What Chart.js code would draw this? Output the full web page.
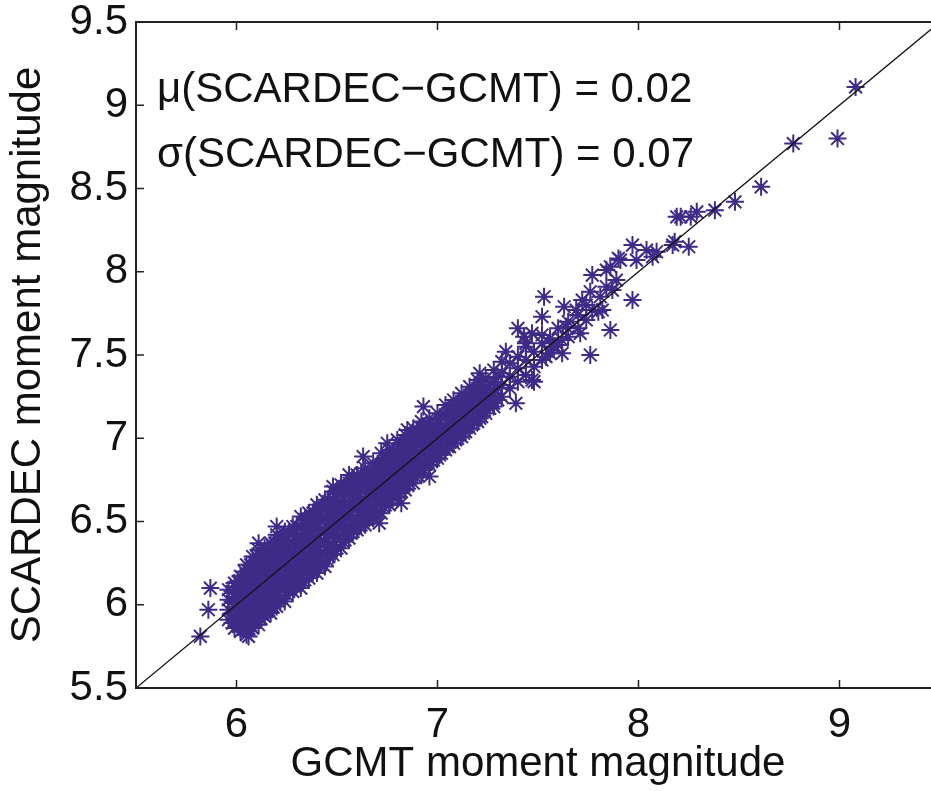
<!DOCTYPE html>
<html>
<head>
<meta charset="utf-8">
<script src="https://cdn.jsdelivr.net/npm/chart.js@4.4.0/dist/chart.umd.min.js"></script>
<style>
html,body{margin:0;padding:0;background:#fff;overflow:hidden;width:931px;height:791px}
canvas{display:block}
</style>
</head>
<body>
<canvas id="c" width="931" height="791"></canvas>
<script>
// ---- data ----
const xTitle = 'GCMT moment magnitude';
const yTitle = 'SCARDEC moment magnitude';
const annotationLines = ['\u03BC(SCARDEC\u2212GCMT) = 0.02', '\u03C3(SCARDEC\u2212GCMT) = 0.07'];
const xTicks = [6, 7, 8, 9];
const yTicks = [5.5, 6, 6.5, 7, 7.5, 8, 8.5, 9, 9.5];
const refLine = [5.5, 9.5];

// dense band: GCMT Mw columns and the SCARDEC Mw values seen in each column
const colX = [5.96, 5.99, 6.02, 6.05, 6.08, 6.11, 6.14, 6.17, 6.20, 6.24,
              6.28, 6.32, 6.36, 6.40, 6.44, 6.48, 6.52, 6.56, 6.60, 6.64,
              6.68, 6.72, 6.76, 6.80, 6.84, 6.88, 6.92, 6.96, 7.00, 7.04,
              7.08, 7.12, 7.16, 7.20, 7.24, 7.28, 7.32, 7.36, 7.40, 7.44,
              7.48, 7.52, 7.56, 7.60, 7.65, 7.70, 7.74, 7.80];
const colY = [
  [5.91, 5.97, 6.03, 6.09],
  [5.86, 5.94, 6.01, 6.07, 6.13],
  [5.84, 5.91, 5.98, 6.04, 6.11, 6.17],
  [5.82, 5.89, 5.96, 6.03, 6.10, 6.18, 6.24],
  [5.86, 5.93, 6.00, 6.07, 6.14, 6.21, 6.29],
  [5.88, 5.96, 6.04, 6.11, 6.18, 6.25, 6.33],
  [5.93, 5.99, 6.06, 6.13, 6.20, 6.27, 6.34],
  [5.95, 6.03, 6.10, 6.17, 6.24, 6.31, 6.37],
  [5.99, 6.06, 6.13, 6.20, 6.27, 6.34, 6.42],
  [6.02, 6.10, 6.17, 6.24, 6.31, 6.38, 6.44],
  [6.08, 6.14, 6.21, 6.28, 6.35, 6.42, 6.47],
  [6.10, 6.18, 6.25, 6.32, 6.39, 6.46, 6.53],
  [6.16, 6.22, 6.29, 6.36, 6.43, 6.50, 6.55],
  [6.19, 6.26, 6.33, 6.40, 6.47, 6.54, 6.60],
  [6.23, 6.31, 6.38, 6.45, 6.52, 6.58, 6.63],
  [6.30, 6.36, 6.43, 6.50, 6.57, 6.63, 6.68],
  [6.34, 6.41, 6.48, 6.55, 6.62, 6.68, 6.72],
  [6.40, 6.46, 6.53, 6.60, 6.67, 6.73, 6.78],
  [6.45, 6.51, 6.58, 6.64, 6.71, 6.78],
  [6.48, 6.55, 6.62, 6.69, 6.75, 6.82],
  [6.52, 6.59, 6.66, 6.73, 6.80, 6.85],
  [6.55, 6.63, 6.70, 6.77, 6.84, 6.91],
  [6.60, 6.67, 6.74, 6.81, 6.88, 6.93],
  [6.65, 6.71, 6.78, 6.85, 6.92, 6.99],
  [6.69, 6.76, 6.83, 6.90, 6.97, 7.02],
  [6.73, 6.81, 6.88, 6.95, 7.01, 7.06],
  [6.79, 6.86, 6.93, 7.00, 7.06, 7.10],
  [6.84, 6.91, 6.98, 7.05, 7.12],
  [6.88, 6.95, 7.02, 7.09, 7.15],
  [6.93, 7.00, 7.07, 7.14, 7.20],
  [6.97, 7.04, 7.11, 7.18, 7.23],
  [7.01, 7.08, 7.15, 7.22, 7.27],
  [7.06, 7.13, 7.20, 7.26, 7.31],
  [7.10, 7.17, 7.24, 7.30, 7.35],
  [7.15, 7.22, 7.29, 7.36],
  [7.21, 7.27, 7.34, 7.41],
  [7.25, 7.32, 7.39, 7.46],
  [7.30, 7.37, 7.45],
  [7.34, 7.42, 7.49],
  [7.38, 7.47, 7.55],
  [7.43, 7.52],
  [7.47, 7.57, 7.62],
  [7.51, 7.60],
  [7.56, 7.66],
  [7.61, 7.70],
  [7.66, 7.74],
  [7.71, 7.80],
  [7.76]
];

// in-between columns of the same dense band
const colX2 = [5.98, 6.01, 6.04, 6.07, 6.10, 6.13, 6.16, 6.19, 6.22, 6.26,
               6.30, 6.34, 6.38, 6.42, 6.46, 6.50, 6.54, 6.58, 6.62, 6.66,
               6.70, 6.74, 6.78, 6.82, 6.86, 6.90, 6.94, 6.98, 7.02, 7.06,
               7.10, 7.14, 7.18, 7.22, 7.26, 7.30];
const colY2 = [
  [5.89, 5.95, 6.02, 6.08],
  [5.87, 5.94, 6.01, 6.08, 6.14],
  [5.86, 5.93, 6.00, 6.07, 6.14, 6.20],
  [5.88, 5.96, 6.03, 6.10, 6.17, 6.24],
  [5.91, 5.99, 6.07, 6.14, 6.22, 6.29],
  [5.94, 6.02, 6.09, 6.16, 6.23, 6.30],
  [5.97, 6.05, 6.12, 6.19, 6.27, 6.33],
  [6.01, 6.09, 6.16, 6.23, 6.30, 6.37],
  [6.04, 6.12, 6.19, 6.27, 6.34, 6.40],
  [6.08, 6.16, 6.23, 6.30, 6.37, 6.43],
  [6.12, 6.20, 6.27, 6.34, 6.41, 6.47],
  [6.15, 6.23, 6.30, 6.38, 6.45, 6.51],
  [6.20, 6.27, 6.34, 6.41, 6.48, 6.55],
  [6.24, 6.31, 6.38, 6.45, 6.52, 6.58],
  [6.29, 6.36, 6.43, 6.50, 6.57, 6.62],
  [6.34, 6.41, 6.47, 6.54, 6.61, 6.67],
  [6.39, 6.45, 6.52, 6.59, 6.66, 6.71],
  [6.44, 6.50, 6.57, 6.63, 6.70, 6.75],
  [6.48, 6.54, 6.61, 6.68, 6.74, 6.79],
  [6.52, 6.58, 6.65, 6.72, 6.78],
  [6.56, 6.63, 6.70, 6.76, 6.83],
  [6.60, 6.67, 6.74, 6.81, 6.87],
  [6.64, 6.71, 6.78, 6.85, 6.91],
  [6.68, 6.75, 6.82, 6.89, 6.95],
  [6.73, 6.80, 6.87, 6.93, 6.99],
  [6.78, 6.85, 6.91, 6.98, 7.03],
  [6.82, 6.89, 6.96, 7.03, 7.07],
  [6.87, 6.94, 7.01, 7.07],
  [6.91, 6.98, 7.05, 7.12],
  [6.95, 7.02, 7.09, 7.16],
  [7.00, 7.07, 7.14, 7.20],
  [7.04, 7.11, 7.18, 7.24],
  [7.09, 7.16, 7.23, 7.28],
  [7.13, 7.20, 7.27, 7.32],
  [7.18, 7.25, 7.32],
  [7.23, 7.30, 7.37]
];

// third staggered set of columns filling the core of the band
const colX3 = [6.00, 6.03, 6.06, 6.09, 6.12, 6.15, 6.18, 6.21, 6.25, 6.29,
               6.33, 6.37, 6.41, 6.45, 6.49, 6.53, 6.57, 6.61, 6.65, 6.69,
               6.73, 6.77, 6.81, 6.85, 6.89, 6.93, 6.97, 7.01, 7.05, 7.09,
               7.13, 7.17, 7.21];
const colY3 = [
  [5.90, 5.97, 6.04, 6.11],
  [5.87, 5.94, 6.01, 6.07, 6.14],
  [5.86, 5.92, 5.99, 6.06, 6.13, 6.20],
  [5.90, 5.97, 6.04, 6.11, 6.18, 6.25],
  [5.92, 6.00, 6.08, 6.15, 6.22, 6.29],
  [5.96, 6.03, 6.10, 6.17, 6.24, 6.31],
  [5.99, 6.07, 6.14, 6.21, 6.28, 6.35],
  [6.03, 6.10, 6.17, 6.24, 6.31, 6.38],
  [6.06, 6.14, 6.21, 6.28, 6.35, 6.41],
  [6.11, 6.18, 6.25, 6.32, 6.39, 6.45],
  [6.14, 6.22, 6.29, 6.36, 6.43, 6.49],
  [6.19, 6.26, 6.33, 6.40, 6.47, 6.53],
  [6.23, 6.30, 6.37, 6.44, 6.51, 6.57],
  [6.27, 6.35, 6.42, 6.49, 6.55, 6.60],
  [6.33, 6.40, 6.46, 6.53, 6.60, 6.65],
  [6.38, 6.45, 6.51, 6.58, 6.65, 6.70],
  [6.43, 6.50, 6.56, 6.63, 6.70, 6.74],
  [6.47, 6.54, 6.61, 6.67, 6.74],
  [6.51, 6.58, 6.65, 6.71, 6.78],
  [6.55, 6.62, 6.69, 6.76, 6.82],
  [6.59, 6.66, 6.73, 6.80, 6.86],
  [6.63, 6.70, 6.77, 6.84, 6.90],
  [6.67, 6.74, 6.81, 6.88, 6.94],
  [6.72, 6.79, 6.86, 6.93, 6.98],
  [6.77, 6.84, 6.91, 6.97, 7.02],
  [6.81, 6.88, 6.95, 7.02, 7.06],
  [6.86, 6.93, 7.00, 7.07],
  [6.90, 6.97, 7.04, 7.11],
  [6.95, 7.02, 7.09, 7.15],
  [6.99, 7.06, 7.13, 7.19],
  [7.03, 7.10, 7.17, 7.23],
  [7.08, 7.15, 7.22, 7.27],
  [7.12, 7.19, 7.26, 7.31]
];

// isolated events (GCMT Mw, SCARDEC Mw)
const outX = [5.82, 5.86, 5.87, 6.06, 6.11, 6.20, 6.63, 6.48, 6.75, 6.85,
              6.71, 6.82, 6.96, 6.93, 7.21, 7.28, 7.34, 7.39,
              7.40, 7.43, 7.44, 7.47, 7.47, 7.48, 7.52, 7.53, 7.54, 7.57,
              7.58, 7.62, 7.62, 7.63, 7.64, 7.69, 7.71, 7.72,
              7.76, 7.76, 7.77, 7.77, 7.81, 7.82, 7.84, 7.84, 7.86, 7.86,
              7.87, 7.89, 7.90, 7.91,
              7.97, 7.97, 7.99, 8.04, 8.07, 8.09, 8.17, 8.18, 8.19,
              8.21, 8.25, 8.26, 8.29, 8.38, 8.48, 8.61, 8.77, 8.99, 9.08];
const outY = [5.81, 5.97, 6.10, 5.81, 6.37, 6.47, 6.89, 6.71, 6.97, 7.05,
              6.49, 6.61, 6.77, 7.19, 7.39, 7.19, 7.52, 7.21,
              7.66, 7.61, 7.57, 7.63, 7.35, 7.34, 7.73, 7.85, 7.49, 7.55,
              7.55, 7.59, 7.51, 7.79, 7.67, 7.77, 7.63, 7.83,
              7.88, 7.50, 7.77, 7.98, 7.85, 7.77, 7.91, 8.01, 7.65, 8.03,
              7.89, 7.95, 8.08, 8.07,
              7.83, 8.16, 8.07, 8.13, 8.09, 8.12, 8.16, 8.18, 8.33,
              8.33, 8.15, 8.33, 8.36, 8.37, 8.42, 8.51, 8.77, 8.80, 9.11];

// ---- build chart ----
const FONT = "'Liberation Sans', Arial, Helvetica, sans-serif";
const points = [];
colX.forEach((x, i) => colY[i].forEach(y => points.push({x: x, y: y})));
colX2.forEach((x, i) => colY2[i].forEach(y => points.push({x: x, y: y})));
colX3.forEach((x, i) => colY3[i].forEach(y => points.push({x: x, y: y})));
outX.forEach((x, i) => points.push({x: x, y: outY[i]}));

// the axes box of the original runs 9px past the right edge of the picture
const extendPlugin = {
  id: 'extendRight',
  afterLayout(chart) {
    const extra = 940 - chart.chartArea.right;
    chart.chartArea.right += extra;
    chart.chartArea.width += extra;
    const s = chart.scales.x;
    s.right += extra;
    s.width += extra;
    s.configure();
  }
};

const boxPlugin = {
  id: 'matlabBox',
  afterDatasetsDraw(chart) {
    const {ctx, chartArea: a, scales} = chart;
    const sx = scales.x, sy = scales.y;
    ctx.save();
    ctx.strokeStyle = '#222';
    ctx.lineWidth = 1.5;
    ctx.beginPath();
    xTicks.forEach(v => {
      const p = sx.getPixelForValue(v);
      ctx.moveTo(p, a.bottom); ctx.lineTo(p, a.bottom - 8);
      ctx.moveTo(p, a.top); ctx.lineTo(p, a.top + 8);
    });
    yTicks.forEach(v => {
      const p = sy.getPixelForValue(v);
      ctx.moveTo(a.left, p); ctx.lineTo(a.left + 8, p);
      ctx.moveTo(a.right, p); ctx.lineTo(a.right - 8, p);
    });
    ctx.stroke();
    ctx.lineWidth = 2;
    ctx.strokeRect(a.left, a.top, a.right - a.left, a.bottom - a.top);
    ctx.fillStyle = '#111';
    ctx.font = '42px ' + FONT;
    ctx.textAlign = 'left';
    ctx.textBaseline = 'alphabetic';
    annotationLines.forEach((t, i) => ctx.fillText(t, a.left + 21, a.top + 80 + i * 65));
    ctx.restore();
  }
};

new Chart(document.getElementById('c'), {
  type: 'scatter',
  data: {
    datasets: [
      {
        type: 'line',
        data: refLine.map(v => ({x: v, y: v})),
        borderColor: '#111',
        borderWidth: 1.3,
        pointRadius: 0,
        fill: false
      },
      {
        data: points,
        pointStyle: 'star',
        pointRadius: 9,
        pointBorderWidth: 2,
        borderColor: '#3f2b87',
        backgroundColor: '#3f2b87',
        pointHoverRadius: 9
      }
    ]
  },
  options: {
    responsive: false,
    animation: false,
    events: [],
    layout: {autoPadding: false, padding: {top: 22, right: 0, left: 0, bottom: 0}},
    plugins: {legend: {display: false}, tooltip: {enabled: false}},
    scales: {
      x: {
        type: 'linear', min: 5.5, max: 9.5,
        afterBuildTicks: s => { s.ticks = xTicks.map(v => ({value: v})); },
        afterFit: s => { s.height = 103; s.paddingLeft = 0; s.paddingRight = 0; },
        grid: {display: false, drawTicks: false},
        border: {display: false},
        ticks: {font: {family: FONT, size: 42}, color: '#111', padding: 12, maxRotation: 0, autoSkip: false,
                callback: v => String(v)},
        title: {display: true, text: xTitle, font: {family: FONT, size: 42}, color: '#111', padding: {top: 0, bottom: 1}}
      },
      y: {
        type: 'linear', min: 5.5, max: 9.5,
        afterBuildTicks: s => { s.ticks = yTicks.map(v => ({value: v})); },
        afterFit: s => { s.width = 136; s.paddingTop = 0; s.paddingBottom = 0; },
        grid: {display: false, drawTicks: false},
        border: {display: false},
        ticks: {font: {family: FONT, size: 42}, color: '#111', padding: 8, autoSkip: false,
                callback: v => String(v)},
        title: {display: true, text: yTitle, font: {family: FONT, size: 42}, color: '#111', padding: {top: 3, bottom: 0}}
      }
    }
  },
  plugins: [extendPlugin, boxPlugin]
});
</script>
</body>
</html>
